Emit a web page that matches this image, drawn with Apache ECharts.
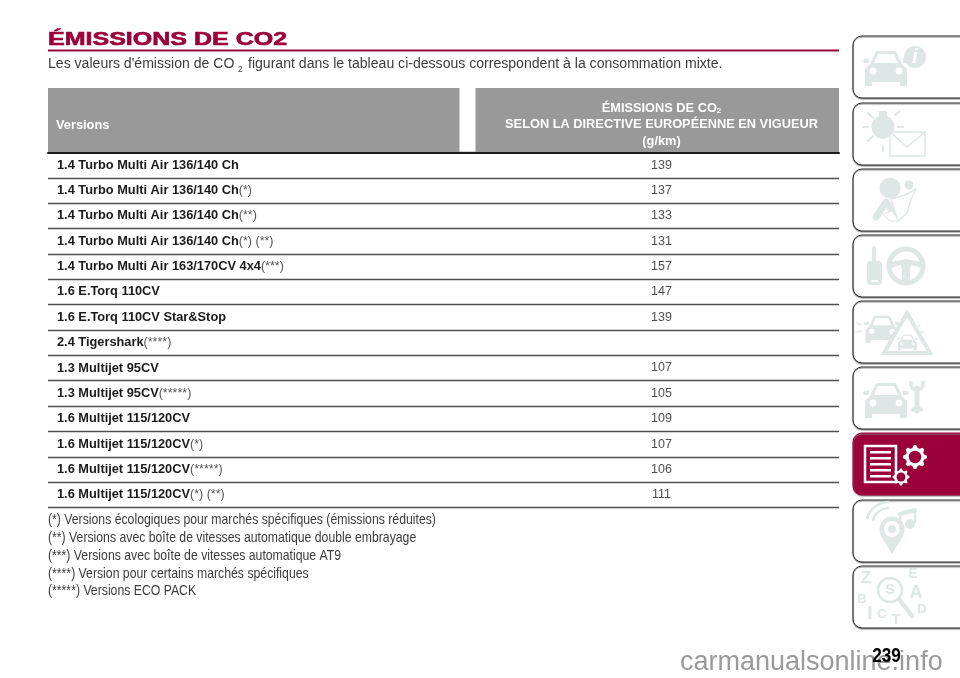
<!DOCTYPE html>
<html>
<head>
<meta charset="utf-8">
<title>Émissions de CO2</title>
<style>html,body{margin:0;padding:0;background:#fff}#main{width:960px;height:678px}</style>
<script src="https://cdn.jsdelivr.net/npm/echarts@6/dist/echarts.min.js"></script>
</head>
<body>
<div id="main"></div>
<script>
// lignes du tableau
var versions = ['1.4 Turbo Multi Air 136/140 Ch','1.4 Turbo Multi Air 136/140 Ch','1.4 Turbo Multi Air 136/140 Ch','1.4 Turbo Multi Air 136/140 Ch','1.4 Turbo Multi Air 163/170CV 4x4','1.6 E.Torq 110CV','1.6 E.Torq 110CV Star&Stop','2.4 Tigershark','1.3 Multijet 95CV','1.3 Multijet 95CV','1.6 Multijet 115/120CV','1.6 Multijet 115/120CV','1.6 Multijet 115/120CV','1.6 Multijet 115/120CV'];
var notes = ['','(*)','(**)','(*) (**)','(***)','','','(****)','','(*****)','','(*)','(*****)','(*) (**)'];
var emissions = [139,137,133,131,157,147,139,null,107,105,109,107,106,111];
var footnotes = ['(*) Versions écologiques pour marchés spécifiques (émissions réduites)','(**) Versions avec boîte de vitesses automatique double embrayage','(***) Versions avec boîte de vitesses automatique AT9','(****) Version pour certains marchés spécifiques','(*****) Versions ECO PACK'];
var headerLines = ['ÉMISSIONS DE CO{s|2}','SELON LA DIRECTIVE EUROPÉENNE EN VIGUEUR','(g/km)'];

var FONT = '"Liberation Sans", Arial, sans-serif';
var RED = '#9c0039';
var ICON = '#dfe6e6';
var VALUE_X = 661.5; // milieu du texte de la colonne de droite, sur l'axe x en pixels

var chart = echarts.init(document.getElementById('main'));

function txt(x, y, text, size, color, extra) {
    var o = {type:'text', x:x, y:y, z:10, style:{text:text, fontFamily:FONT, fontSize:size, fill:color, verticalAlign:'middle', align:'left'}};
    for (var k in (extra||{})) {
        if (k === 'style') { for (var s in extra.style) o.style[s] = extra.style[s]; }
        else o[k] = extra[k];
    }
    return o;
}
function circle(cx, cy, r, fill, stroke, lw) {
    return {type:'circle', shape:{cx:cx,cy:cy,r:r}, style:{fill:fill||'none', stroke:stroke||null, lineWidth:lw||0}};
}
function line(pts, color, lw) {
    return {type:'polyline', shape:{points:pts}, style:{fill:'none', stroke:color, lineWidth:lw, lineCap:'round', lineJoin:'round'}};
}
function poly(pts, fill, stroke, lw) {
    return {type:'polygon', shape:{points:pts}, style:{fill:fill, stroke:stroke||null, lineWidth:lw||0}};
}
function box(x, y, w, h, fill, r) {
    return {type:'rect', shape:{x:x,y:y,width:w,height:h,r:r||0}, style:{fill:fill}};
}
function arc(cx, cy, r, a0, a1, lw, color) {
    return {type:'arc', shape:{cx:cx,cy:cy,r:r,startAngle:a0,endAngle:a1,clockwise:true}, style:{fill:'none',stroke:color||ICON,lineWidth:lw}};
}

// voiture vue de face, largeur 45
function car(x, y, s) {
    return {type:'group', x:x, y:y, scaleX:s, scaleY:s, children:[
        poly([[7,14],[12,3],[14,1],[32,1],[34,3],[39,14],[44,19],[44,36],[37,36],[37,32],[9,32],[9,36],[2,36],[2,19]], ICON),
        poly([[0,10],[6,8],[6,13],[1,13]], ICON),
        poly([[46,10],[40,8],[40,13],[45,13]], ICON),
        poly([[11,13],[15,4],[31,4],[35,13]], '#fff'),
        circle(10,21,3.4,'#fff'),
        circle(36,21,3.4,'#fff')
    ]};
}
function gear(cx, cy, r, teeth) {
    var pts = [], n = teeth * 4;
    for (var i = 0; i < n; i++) {
        var a = (i - 0.5) / n * Math.PI * 2;
        var rr = (i % 4 === 0 || i % 4 === 1) ? r : r * 0.78;
        pts.push([cx + rr * Math.cos(a), cy + rr * Math.sin(a)]);
    }
    return [poly(pts, '#fff'), circle(cx, cy, r * 0.52, RED)];
}
function letter(x, y, c, size) {
    return txt(x, y, c, size, ICON, {style:{align:'center',fontWeight:'bold'}});
}

var tabTops = [36,103,169,235,301,367,433,500,566];
var tabIcons = [
    [car(10,14,1), circle(62,21,11,ICON),
     txt(62,21,'i',21,'#fff',{style:{align:'center',fontWeight:'bold',fontStyle:'italic'}})],
    [box(26,8,8,6,ICON), circle(30,24,11.5,ICON),
     line([[15,10],[20,15]],ICON,2), line([[10,24],[15,24]],ICON,2), line([[15,38],[20,33]],ICON,2), line([[30,43],[30,48]],ICON,2), line([[42,12],[47,8]],ICON,2), line([[45,24],[50,24]],ICON,2),
     {type:'rect', shape:{x:37,y:29,width:35,height:24}, style:{fill:'#fff',stroke:ICON,lineWidth:1.5}},
     line([[37,29],[54,44],[72,29]],ICON,1.5)],
    [circle(37,19,10.5,ICON), circle(56,16,4.5,ICON),
     line([[23,48],[33,33],[43,47]],ICON,7),
     poly([[38,30],[52,26],[63,20],[58,30],[54,44],[45,52]],'#fff',ICON,1.5),
     poly([[30,45],[39,42],[46,52],[37,52]],'#fff',ICON,1)],
    [box(19,11,4,18,ICON,2), box(14,26,15,24,ICON,4), box(18,45,7,2,'#fff'),
     circle(53,31,17,'none',ICON,5), circle(53,31,5,ICON),
     poly([[38,27],[53,24],[68,27],[68,33],[53,28],[38,33]],ICON),
     poly([[49,32],[57,32],[57,47],[49,47]],ICON)],
    [car(11,14,0.78), poly([[54,12],[31,52],[77,52]],'#fff',ICON,4),
     car(44,33,0.45), line([[64,26],[67,24]],ICON,1.5), line([[66,31],[70,31]],ICON,1.5), line([[8,24],[4,22]],ICON,1.5), line([[8,30],[3,31]],ICON,1.5)],
    [car(10,15,1), line([[64,21],[64,44]],ICON,5), arc(64,17,6,-0.5,3.6,3.5), arc(64,47,6,3.6,-0.5,3.5)],
    [{type:'rect', shape:{x:12,y:13,width:31,height:36}, style:{fill:RED,stroke:'#fff',lineWidth:2.5}},
     box(17,18,21,2.5,'#fff'), box(17,24,21,2.5,'#fff'), box(17,30,21,2.5,'#fff'), box(17,36,21,2.5,'#fff'), box(17,42,21,2.5,'#fff'),
     {type:'group', children:gear(62,24,12,8)},
     {type:'group', children:gear(48,44,8.5,8)}],
    [circle(39,29,12.5,ICON), poly([[28,36],[50,36],[39,54]],ICON), circle(39,29,8,'#fff'), circle(39,29,4,ICON),
     arc(36,25,17,3.4,4.7,2.5), arc(36,25,23,3.4,4.7,2.5),
     line([[47,14],[47,28]],ICON,2.5), line([[47,14],[62,10]],ICON,4), line([[62,10],[62,22]],ICON,2.5), circle(57,24,5,ICON)],
    [letter(13,12,'Z',17), letter(60,8,'E',14), letter(9,33,'B',13), letter(63,27,'A',18),
     letter(69,43,'D',13), letter(17,48,'I',19), letter(29,48,'C',13), letter(43,54,'T',15),
     circle(37,24,12,'none',ICON,2.5), line([[46,33],[59,50]],ICON,4.5), letter(37,24,'S',15)]
];

var elements = [];
// titre, filet et phrase d'introduction
elements.push(txt(48,40.5,'ÉMISSIONS DE CO2',18,RED,{scaleX:1.39,style:{fontWeight:'bold',stroke:RED,lineWidth:0.6}}));
elements.push({type:'rect', z:10, shape:{x:48,y:49.5,width:791,height:2}, style:{fill:RED}});
elements.push(txt(48,64.5,"Les valeurs d'émission de CO",14.07,'#3c3c3c'));
elements.push(txt(238,69.5,'2',8.5,'#3c3c3c'));
elements.push(txt(248,64.5,'figurant dans le tableau ci-dessous correspondent à la consommation mixte.',14.07,'#3c3c3c'));
// en-tête du tableau
elements.push({type:'rect', z:1, shape:{x:48,y:88,width:411.5,height:64}, style:{fill:'#999999'}});
elements.push({type:'rect', z:1, shape:{x:475.5,y:88,width:363.5,height:64}, style:{fill:'#999999'}});
elements.push(txt(56,125,'Versions',12.8,'#fff',{style:{fontWeight:'bold'}}));
headerLines.forEach(function (t, i) {
    elements.push(txt(VALUE_X,108 + i * 16.6,t,12.8,'#fff',{style:{align:'center',fontWeight:'bold',rich:{s:{fontSize:8,fontWeight:'bold',fill:'#fff',fontFamily:FONT,verticalAlign:'bottom',padding:[6,0,0,0]}}}}));
});
// renvois
footnotes.forEach(function (t, i) {
    elements.push(txt(48,520.5 + i * 17.7,t,14.2,'#3c3c3c',{scaleX:0.863}));
});
// onglets
tabTops.forEach(function (top, i) {
    var active = i === 6;
    elements.push({type:'group', x:853, y:top, z:5, children:[
        {type:'rect', shape:{x:0,y:0,width:140,height:62,r:9}, style:{fill:active ? RED : '#fff', stroke:active ? RED : '#2a2a2a', lineWidth:1, shadowBlur:1, shadowColor:'#888', shadowOffsetY:1}}
    ].concat(tabIcons[i])});
});
// filigrane puis numéro de page par-dessus
elements.push(txt(680,663,'carmanualsonline.info',27,'#9a9a9a',{z:20}));
elements.push(txt(886.5,656,'239',21,'#000',{z:21,scaleX:0.82,style:{align:'center',fontWeight:'bold'}}));

var option = {
    animation: false,
    grid: {left:48, right:121, top:152.5, height:355},
    xAxis: {
        type:'value', min:48, max:839, position:'top',
        axisLine:{show:true, onZero:false, lineStyle:{color:'#1c1c1c', width:2}},
        axisTick:{show:false}, axisLabel:{show:false}, splitLine:{show:false}
    },
    yAxis: {
        type:'category', inverse:true, data:versions,
        axisLine:{show:false}, axisTick:{show:false},
        splitLine:{show:true, interval:0, lineStyle:{color:'#505050', width:1.3}},
        axisLabel:{
            inside:true, margin:9, interval:0, align:'left',
            formatter:function (value, index) {
                return '{b|' + value + '}' + (notes[index] ? '{n|' + notes[index] + '}' : '');
            },
            rich:{
                b:{fontFamily:FONT, fontSize:12.8, fontWeight:'bold', color:'#1a1a1a'},
                n:{fontFamily:FONT, fontSize:12.5, color:'#555555'}
            }
        }
    },
    series: [{
        name:'Émissions de CO2 (g/km)',
        type:'scatter', symbolSize:1, silent:true,
        itemStyle:{color:'transparent'},
        label:{show:true, position:'inside', color:'#222222', fontFamily:FONT, fontSize:12.5, formatter:function (p) { return p.value[2]; }},
        data:emissions.map(function (v, i) { return v === null ? null : [VALUE_X, i, v]; })
    }],
    graphic: {elements: elements}
};
chart.setOption(option);
</script>
</body>
</html>
